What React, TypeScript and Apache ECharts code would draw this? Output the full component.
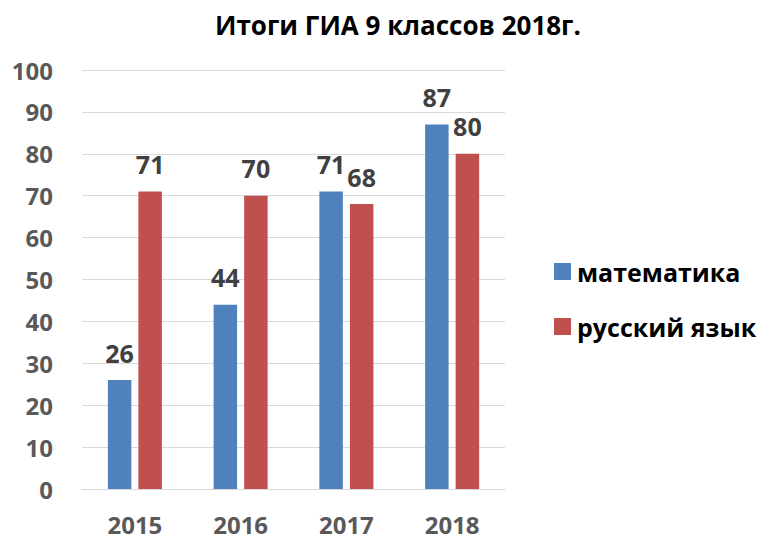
import React, { useEffect, useRef } from "react";
import * as echarts from "echarts";

const categories = ["2015", "2016", "2017", "2018"];
const mathValues = [26, 44, 71, 87];
const russianValues = [71, 70, 68, 80];
const seriesNames = ["математика", "русский язык"];
const titleText = "Итоги ГИА 9 классов 2018г.";

const FONT = "'Open Sans', 'Noto Sans', sans-serif";

export default function App() {
  const ref = useRef<HTMLDivElement>(null);
  useEffect(() => {
    if (!ref.current) return;
    const chart = echarts.init(ref.current, null, { renderer: "svg" });
    const labelStyle = {
      show: true,
      position: "top" as const,
      distance: 15,
      fontSize: 25,
      fontWeight: "bold" as const,
      color: "#404040",
      fontFamily: FONT,
    };
    chart.setOption({
      animation: false,
      backgroundColor: "#ffffff",
      title: {
        text: titleText,
        left: 393,
        textAlign: "center",
        top: 7,
        textStyle: { fontSize: 26, fontWeight: "bold", color: "#000000", fontFamily: FONT },
      },
      legend: {
        orient: "vertical",
        left: 549,
        top: 254,
        itemWidth: 17,
        itemHeight: 17,
        itemGap: 30,
        icon: "rect",
        textStyle: { fontSize: 25, fontWeight: "bold", color: "#000000", fontFamily: FONT, padding: [0, 0, 0, 1] },
        data: seriesNames,
      },
      grid: { left: 82, right: 257, top: 70, bottom: 50, containLabel: false, outerBoundsMode: "none" },
      xAxis: {
        type: "category",
        data: categories,
        axisLine: { lineStyle: { color: "#D9D9D9", width: 1 } },
        axisTick: { show: false },
        axisLabel: { margin: 27, fontSize: 24, lineHeight: 16, fontWeight: "bold", color: "#595959", fontFamily: FONT },
      },
      yAxis: {
        type: "value",
        min: 0,
        max: 100,
        interval: 10,
        axisLine: { show: false },
        axisTick: { show: false },
        splitLine: { lineStyle: { color: "#D9D9D9", width: 1 } },
        axisLabel: { margin: 29, fontSize: 24, fontWeight: "bold", color: "#595959", fontFamily: FONT },
      },
      series: [
        {
          name: seriesNames[0],
          type: "bar",
          data: mathValues,
          barWidth: 23.5,
          barGap: "30%",
          itemStyle: { color: "#4F81BD" },
          label: labelStyle,
        },
        {
          name: seriesNames[1],
          type: "bar",
          data: russianValues,
          barWidth: 23.5,
          itemStyle: { color: "#C0504D" },
          label: labelStyle,
        },
      ],
    });
    return () => chart.dispose();
  }, []);
  return <div ref={ref} style={{ width: 762, height: 539, position: "absolute", left: 0, top: 0 }} />;
}
